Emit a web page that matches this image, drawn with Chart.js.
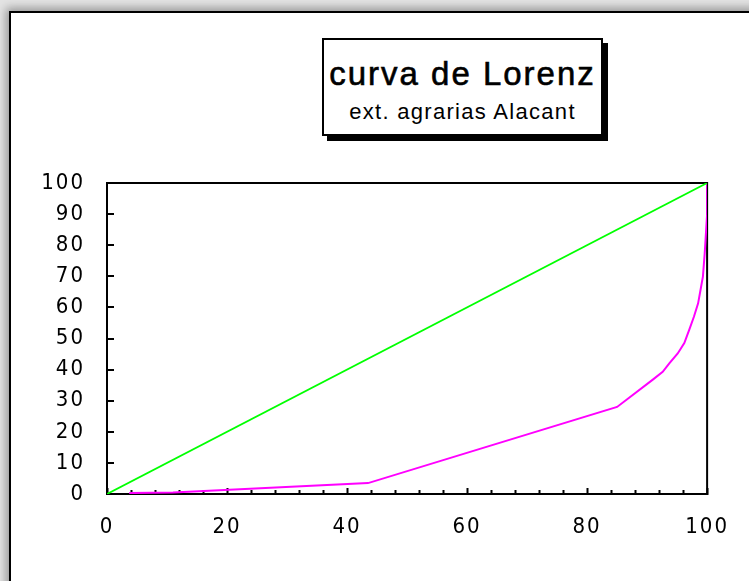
<!DOCTYPE html>
<html>
<head>
<meta charset="utf-8">
<script src="https://cdn.jsdelivr.net/npm/chart.js@4/dist/chart.umd.min.js"></script>
<style>
  html, body { margin: 0; padding: 0; }
  body { width: 749px; height: 581px; background: #e4e4e4; position: relative; overflow: hidden; }
  #frame {
    position: absolute; left: 9px; top: 11px; width: 760px; height: 600px;
    background: #fff; border: 2px solid #000;
    box-shadow: 0 0 9px 3px rgba(0, 0, 0, 0.35);
  }
  #titlebox {
    position: absolute; left: 322px; top: 38px; width: 277px; height: 94px;
    background: #fff; border: 2px solid #000; box-shadow: 5px 5px 0 #000;
  }
  .tline {
    position: absolute; left: 322px; width: 281px; text-align: center;
    font-family: "Liberation Sans", Arial, sans-serif; color: #000; white-space: nowrap;
  }
  #t1 { top: 57px; font-size: 33px; line-height: 33px; letter-spacing: 2px; -webkit-text-stroke: 0.6px #000; }
  #t2 { top: 101px; font-size: 22px; line-height: 22px; letter-spacing: 1.3px; }
  #chart { position: absolute; left: 0; top: 0; }
</style>
</head>
<body>
<div id="frame"></div>
<div id="titlebox"></div>
<div class="tline" id="t1">curva de Lorenz</div>
<div class="tline" id="t2">ext. agrarias Alacant</div>
<canvas id="chart" width="749" height="581"></canvas>
<script>
// valors llegits del gràfic (% acumulat)
const lorenzX = [3.7, 11, 43.5, 85, 90.9, 92.6, 93.7, 95.1, 96.2, 97, 97.8, 98.5, 98.9, 99.3, 99.6, 100, 100];
const lorenzY = [0.3, 0.5, 3.5, 28, 36.7, 39.3, 42, 45.2, 48.5, 52.7, 57, 61.3, 65.6, 69.9, 77.4, 90, 100];
const equalityX = [0, 100];
const equalityY = [0, 100];
const xTicks = [0, 20, 40, 60, 80, 100];
const xMinorTicks = [0, 4, 8, 12, 16, 20, 24, 28, 32, 36, 40, 44, 48, 52, 56, 60, 64, 68, 72, 76, 80, 84, 88, 92, 96, 100];
const yTicks = [0, 10, 20, 30, 40, 50, 60, 70, 80, 90, 100];

const toPoints = (xs, ys) => xs.map((x, i) => ({ x, y: ys[i] }));

const letterSpacing = {
  id: "letterSpacing",
  beforeUpdate(chart) { chart.ctx.letterSpacing = "2px"; },
  beforeDraw(chart) { chart.ctx.letterSpacing = "2px"; },
};

// marc del gràfic i marques interiors
const plotFrame = {
  id: "plotFrame",
  beforeDatasetsDraw(chart) {
    const { ctx, chartArea: a, scales } = chart;
    ctx.save();
    ctx.strokeStyle = "#000";
    ctx.lineWidth = 2;
    ctx.beginPath();
    ctx.moveTo(a.left, a.top);
    ctx.lineTo(a.right, a.top);
    ctx.lineTo(a.right, a.bottom);
    ctx.stroke();

    ctx.beginPath();
    xMinorTicks.forEach((v) => {
      const px = Math.round(scales.x.getPixelForValue(v)) + 0.5;
      const len = xTicks.includes(v) ? 6 : 4;
      ctx.moveTo(px, a.bottom + 1);
      ctx.lineTo(px, a.bottom - len);
    });
    yTicks.forEach((v) => {
      const py = Math.round(scales.y.getPixelForValue(v));
      ctx.moveTo(a.left, py);
      ctx.lineTo(a.left + 7, py);
    });
    ctx.stroke();
    ctx.restore();
  },
};

const tickFont = { family: "'Liberation Sans Narrow', 'DejaVu Sans Condensed', Arial, sans-serif", size: 22 };

new Chart(document.getElementById("chart"), {
  type: "scatter",
  data: {
    datasets: [
      {
        label: "igualtat",
        data: toPoints(equalityX, equalityY),
        showLine: true,
        borderColor: "#00ff00",
        borderWidth: 1.8,
        pointRadius: 0,
      },
      {
        label: "Lorenz",
        data: toPoints(lorenzX, lorenzY),
        showLine: true,
        borderColor: "#ff00ff",
        borderWidth: 2,
        pointRadius: 0,
      },
    ],
  },
  options: {
    responsive: false,
    devicePixelRatio: 1,
    animation: false,
    layout: { padding: { left: 0, right: 41, top: 183, bottom: 0 } },
    plugins: {
      legend: { display: false },
      tooltip: { enabled: false },
    },
    scales: {
      x: {
        type: "linear",
        min: 0,
        max: 100,
        afterBuildTicks: (scale) => { scale.ticks = xTicks.map((v) => ({ value: v })); },
        afterFit: (scale) => { scale.height = 87; },
        grid: { display: false, drawTicks: false },
        border: { display: true, color: "#000", width: 2 },
        ticks: { padding: 20, color: "#000", font: tickFont, maxRotation: 0 },
      },
      y: {
        type: "linear",
        min: 0,
        max: 100,
        afterBuildTicks: (scale) => { scale.ticks = yTicks.map((v) => ({ value: v })); },
        afterFit: (scale) => { scale.width = 107; },
        grid: { display: false, drawTicks: false },
        border: { display: true, color: "#000", width: 2 },
        ticks: { padding: 22, color: "#000", font: tickFont },
      },
    },
  },
  plugins: [letterSpacing, plotFrame],
});
</script>
</body>
</html>
